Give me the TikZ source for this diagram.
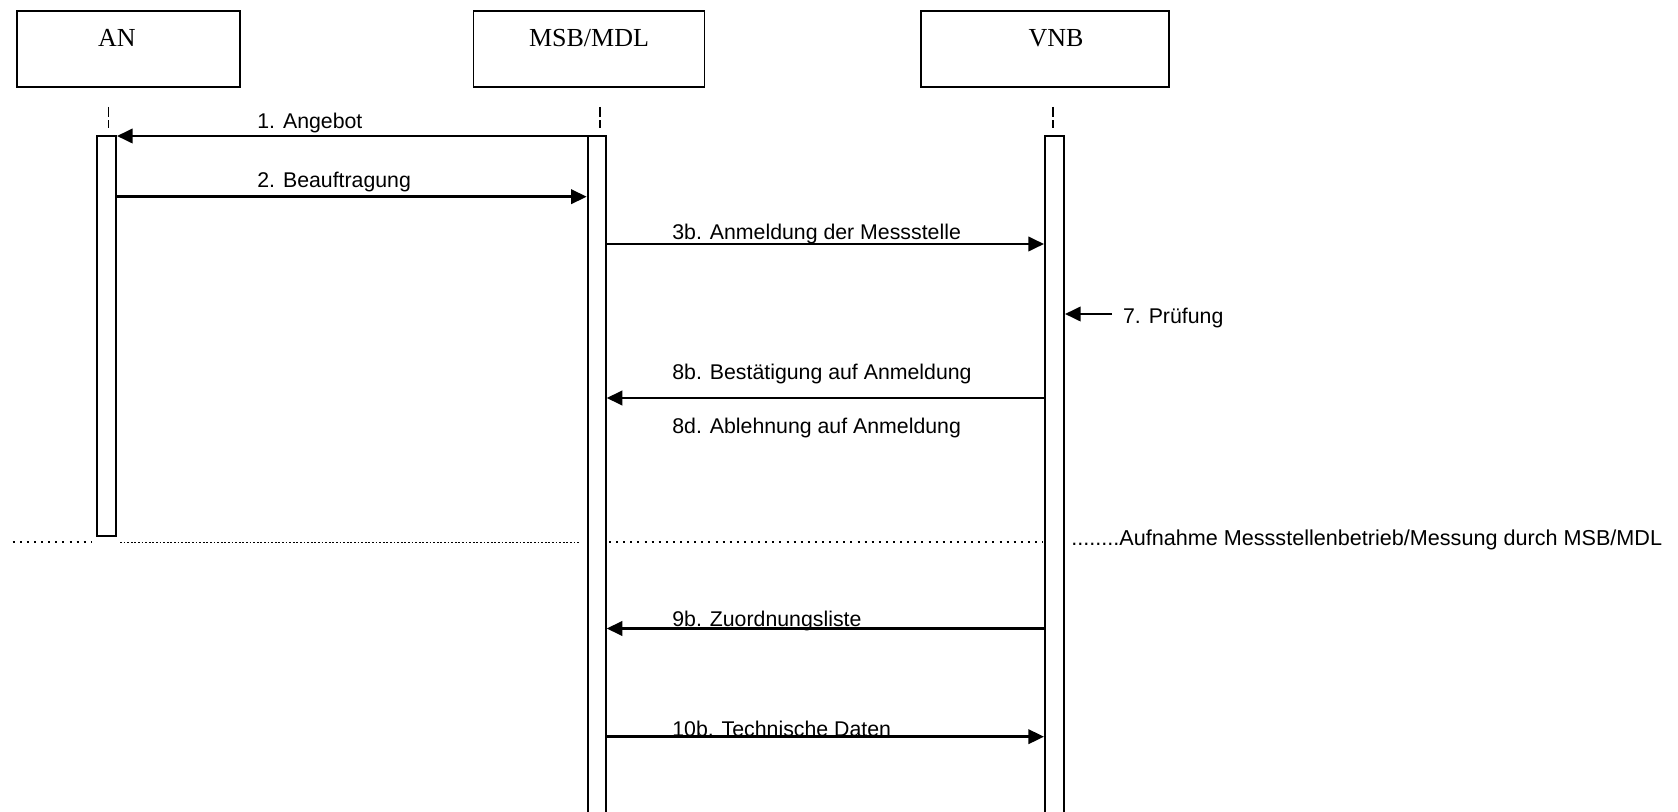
\documentclass[tikz,border=0pt]{standalone}
\usepackage{fontspec}
\setmainfont{Liberation Serif}
\newfontfamily\arialfont{Liberation Sans}
\usetikzlibrary{arrows.meta}
\begin{document}
\begin{tikzpicture}[x=0.5pt,y=-0.5pt,
  actor/.style={draw, line width=0.8pt, minimum height=38pt, inner sep=0pt},
  title/.style={font=\fontsize{13}{15}\selectfont, anchor=base, inner sep=0pt},
  bar/.style={draw, line width=1pt, fill=white, inner sep=0pt},
  msg/.style={line width=1.2pt, -{Triangle[length=7.8pt,width=7.2pt]}},
  lbl/.style={font=\arialfont\fontsize{10.65}{12}\selectfont, anchor=base west, inner sep=0pt},
  lifeline/.style={line width=0.8pt, dash pattern=on 5pt off 1.7pt},
  sparse/.style={line width=1pt, dash pattern=on 1pt off 2.55pt},
  dense/.style={line width=0.9pt, dash pattern=on 0.9pt off 0.9pt}]
\useasboundingbox (0,0) rectangle (1678,812);
\clip (0,0) rectangle (1678,812);
% actor boxes
\node[actor, minimum width=111.5pt] (an)  at (128.5,49) {};
\node[actor, minimum width=115.5pt] (msb) at (588.8,49) {};
\node[actor, minimum width=124pt]   (vnb) at (1045,49) {};
\node[title] (ant)  at (117,46.5)  {AN};
\node[title] (msbt) at (589,46.5)  {MSB/MDL};
\node[title] (vnbt) at (1056,46.5) {VNB};
% lifeline stubs
\coordinate (anl)  at (108.5,107);
\coordinate (msbl) at (600,107);
\coordinate (vnbl) at (1053,107);
\draw[lifeline] (anl) -- ++(0,21);
\draw[lifeline] (msbl) -- ++(0,21);
\draw[lifeline] (vnbl) -- ++(0,21);
% separator
\coordinate (d1) at (12.7,542.5);
\coordinate (d2) at (92.3,542.5);
\coordinate (d3) at (120,542.5);
\coordinate (d4) at (580,542.5);
\coordinate (d5) at (609,542.5);
\coordinate (d6) at (1043,542.5);
\draw[sparse] (d1) -- (d2);
\draw[dense]  (d3) -- (d4);
\draw[sparse] (d5) -- (d6);
\node[lbl, font=\arialfont\fontsize{10.8}{12}\selectfont] (auf) at (1071,546)
  {........Aufnahme Messstellenbetrieb/Messung durch MSB/MDL};
% activation bars
\node[bar, minimum width=9.5pt, minimum height=200pt] (anb)  at (106.5,336) {};
\node[bar, minimum width=9pt,   minimum height=347pt] (msbb) at (596.7,483) {};
\node[bar, minimum width=9.5pt, minimum height=347pt] (vnbb) at (1054.5,483) {};
% message levels
\coordinate (y1) at (0,136);
\coordinate (y2) at (0,196.7);
\coordinate (y3) at (0,244);
\coordinate (p7) at (1112,314);
\coordinate (y8) at (0,398);
\coordinate (y9) at (0,628.5);
\coordinate (y10) at (0,736.7);
\draw[msg] (msbb.west |- y1) -- (anb.east |- y1);
\draw[msg] (anb.east |- y2) -- (msbb.west |- y2);
\draw[msg] (msbb.east |- y3) -- (vnbb.west |- y3);
\draw[msg] (p7) -- (vnbb.east |- p7);
\draw[msg] (vnbb.west |- y8) -- (msbb.east |- y8);
\draw[msg] (vnbb.west |- y9) -- (msbb.east |- y9);
\draw[msg] (msbb.east |- y10) -- (vnbb.west |- y10);
% labels
\node[lbl] (l1)  at (257,128.3)   {1. Angebot};
\node[lbl] (l2)  at (257,187.7)   {2. Beauftragung};
\node[lbl] (l3)  at (672,240)     {3b. Anmeldung der Messstelle};
\node[lbl] (l7)  at (1122.7,323.3) {7. Prüfung};
\node[lbl] (l8b) at (672,380)     {8b. Bestätigung auf Anmeldung};
\node[lbl] (l8d) at (672,433.3)   {8d. Ablehnung auf Anmeldung};
\node[lbl] (l9)  at (672,626.7)   {9b. Zuordnungsliste};
\node[lbl] (l10) at (672,736.7)   {10b. Technische Daten};
\end{tikzpicture}
\end{document}
